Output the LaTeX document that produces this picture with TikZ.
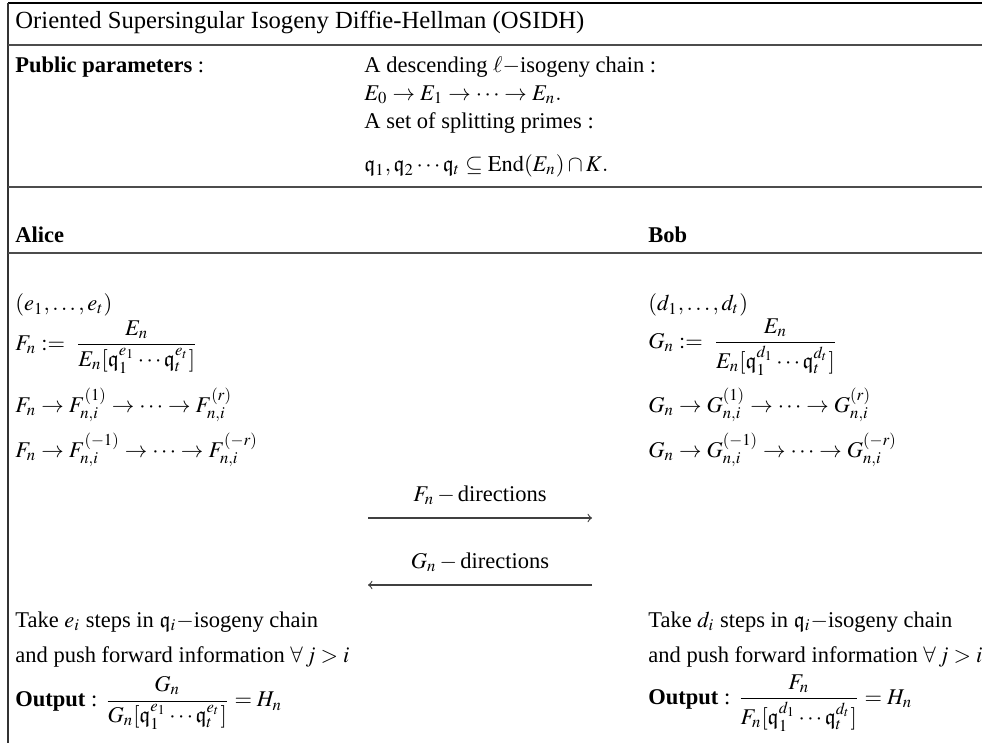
\documentclass[tikz,border=0pt]{standalone}
\usepackage{amsmath}
\usepackage{amssymb}
\usepackage{mathptmx}
\usepackage{fontspec}
\setmainfont{Liberation Serif}
\begin{document}
\begin{tikzpicture}[x=0.4444pt,y=-0.4444pt,
  txt/.style={anchor=west,inner sep=0pt,font=\fontsize{10}{12}\selectfont},
  ttl/.style={anchor=west,inner sep=0pt,font=\fontsize{10.95}{13}\selectfont},
  ctxt/.style={anchor=center,inner sep=0pt,font=\fontsize{10}{12}\selectfont},
  rule/.style={draw=black!70,line width=0.5pt},
  msg/.style={draw=black!75,line width=0.5pt,-to}]
\useasboundingbox (0,0) rectangle (982,743);
% frame
\coordinate (tl) at (8,3);
\coordinate (tr) at (982,3);
\coordinate (bl) at (8,743);
\draw[line width=0.9pt] (tl) -- (tr);
\draw[line width=0.6pt,black!80] (tl) -- (bl);
\coordinate (r1a) at (8,45);  \coordinate (r1b) at (982,45);
\coordinate (r2a) at (8,187); \coordinate (r2b) at (982,187);
\coordinate (r3a) at (8,253); \coordinate (r3b) at (982,253);
\draw[rule] (r1a) -- (r1b);
\draw[rule] (r2a) -- (r2b);
\draw[rule] (r3a) -- (r3b);
% title and public parameters
\node[ttl] (title) at (15,22) {Oriented Supersingular Isogeny Diffie-Hellman (OSIDH)};
\node[txt] (pp) at (15,67) {\textbf{Public parameters} :};
\node[txt] (p1) at (364,67) {A descending $\ell-$isogeny chain :};
\node[txt] (p2) at (364,95) {$E_0 \rightarrow E_1 \rightarrow \cdots \rightarrow E_n.$};
\node[txt] (p3) at (364,123) {A set of splitting primes :};
\node[txt] (p4) at (364,166) {$\mathfrak{q}_1, \mathfrak{q}_2 \cdots \mathfrak{q}_t \subseteq \mathrm{End}(E_n) \cap K.$};
% headers
\node[txt] (alice) at (15,235) {\textbf{Alice}};
\node[txt] (bob) at (648,235) {\textbf{Bob}};
% Alice column
\node[txt] (a1) at (15,305) {$(e_1,\ldots,e_t)$};
\node[txt] (a2) at (15,347) {$F_n :=\ \dfrac{E_n}{E_n[\mathfrak{q}_1^{e_1}\cdots\mathfrak{q}_t^{e_t}]}$};
\node[txt] (a3) at (15,405) {$F_n \rightarrow F_{n,i}^{(1)} \rightarrow \cdots \rightarrow F_{n,i}^{(r)}$};
\node[txt] (a4) at (15,450) {$F_n \rightarrow F_{n,i}^{(-1)} \rightarrow \cdots \rightarrow F_{n,i}^{(-r)}$};
\node[txt] (a5) at (15,622) {Take $e_i$ steps in $\mathfrak{q}_i-$isogeny chain};
\node[txt] (a6) at (15,657) {and push forward information $\forall\, j > i$};
\node[txt] (a7) at (15,703) {\textbf{Output} : $\dfrac{G_n}{G_n[\mathfrak{q}_1^{e_1}\cdots\mathfrak{q}_t^{e_t}]} = H_n$};
% Bob column
\node[txt] (b1) at (648,305) {$(d_1,\ldots,d_t)$};
\node[txt] (b2) at (648,347) {$G_n :=\ \dfrac{E_n}{E_n[\mathfrak{q}_1^{d_1}\cdots\mathfrak{q}_t^{d_t}]}$};
\node[txt] (b3) at (648,405) {$G_n \rightarrow G_{n,i}^{(1)} \rightarrow \cdots \rightarrow G_{n,i}^{(r)}$};
\node[txt] (b4) at (648,450) {$G_n \rightarrow G_{n,i}^{(-1)} \rightarrow \cdots \rightarrow G_{n,i}^{(-r)}$};
\node[txt] (b5) at (648,622) {Take $d_i$ steps in $\mathfrak{q}_i-$isogeny chain};
\node[txt] (b6) at (648,657) {and push forward information $\forall\, j > i$};
\node[txt] (b7) at (648,703) {\textbf{Output} : $\dfrac{F_n}{F_n[\mathfrak{q}_1^{d_1}\cdots\mathfrak{q}_t^{d_t}]} = H_n$};
% messages
\coordinate (fa) at (368,518); \coordinate (fb) at (592,518);
\coordinate (ga) at (592,585); \coordinate (gb) at (368,585);
\node[ctxt] (fl) at (480,495) {$F_n - \text{directions}$};
\node[ctxt] (gl) at (480,562) {$G_n - \text{directions}$};
\draw[msg] (fa) -- (fb);
\draw[msg] (ga) -- (gb);
\end{tikzpicture}
\end{document}
